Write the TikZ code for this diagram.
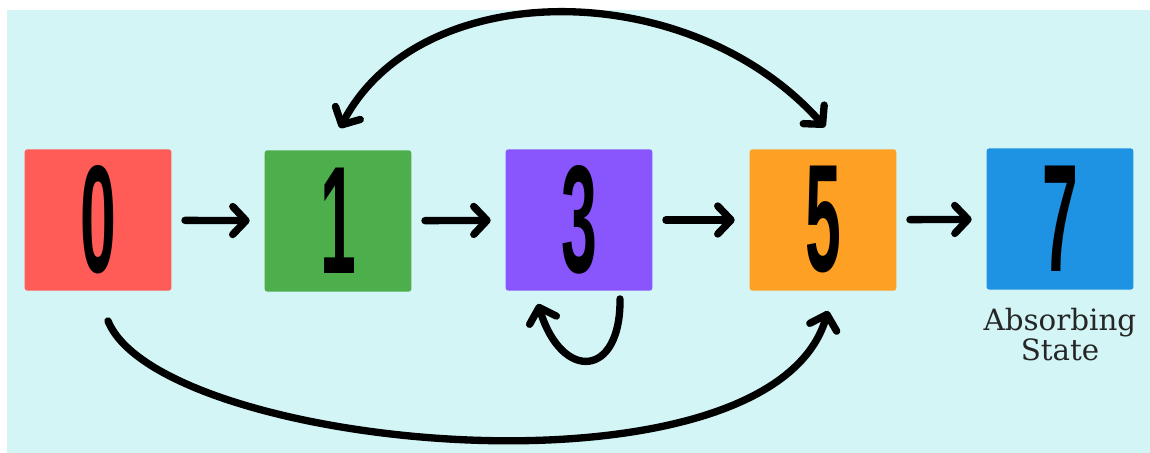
\documentclass[tikz,border=0pt]{standalone}
\usepackage{fontspec}
\usepackage{graphicx}
\usetikzlibrary{arrows.meta,calc}

\newfontfamily\digitfont{Liberation Sans}
\newfontfamily\labelfont{DejaVu Serif}
\newcommand\statedigit[1]{\scalebox{0.42}[1]{\fontsize{115}{115}\selectfont\bfseries #1}}

\definecolor{bgcyan}{HTML}{D3F5F6}
\definecolor{cZero}{HTML}{FF5B57}
\definecolor{cOne}{HTML}{4DAE4C}
\definecolor{cThree}{HTML}{8856FC}
\definecolor{cFive}{HTML}{FDA024}
\definecolor{cSeven}{HTML}{1E92E3}
\definecolor{labelgray}{HTML}{262626}

\tikzset{
  sbox/.style={minimum width=110pt, minimum height=106pt, inner sep=0pt,
               rounded corners=2pt, font=\digitfont, text=black},
  barb/.tip={Straight Barb[length=10pt, width=21pt, round]},
  arr/.style={line width=5.5pt, line cap=round, draw=black, -barb},
  straightarr/.style={arr, shorten <=10pt, shorten >=11pt},
}

\begin{document}
\begin{tikzpicture}[x=0.75pt, y=-0.75pt]
  % canvas with a thin white margin at top and left
  \useasboundingbox (0,0) rectangle (1150,453);
  \fill[white] (0,0) rectangle (1150,453);
  \fill[bgcyan] (7,10) rectangle (1150,453);

  % states
  \node[sbox, fill=cZero]  (n0) at (98,220)   {\statedigit{0}};
  \node[sbox, fill=cOne]   (n1) at (338,221)  {\statedigit{1}};
  \node[sbox, fill=cThree] (n3) at (579,220)  {\statedigit{3}};
  \node[sbox, fill=cFive]  (n5) at (823,220)  {\statedigit{5}};
  \node[sbox, fill=cSeven] (n7) at (1060,219) {\statedigit{7}};

  \node[anchor=north, inner sep=0pt, align=center, text=labelgray,
        font=\labelfont\fontsize{22}{20}\selectfont]
       (lbl) at ($(n7.south)+(0,18)$) {Absorbing\\State};

  % chain of transitions
  \draw[straightarr] (n0) -- (n1);
  \draw[straightarr] (n1) -- (n3);
  \draw[straightarr] (n3) -- (n5);
  \draw[straightarr] (n5) -- (n7);

  % two-way jump between 1 and 5
  \draw[arr, barb-barb] ($(n1.north)+(2,-22)$)
        .. controls (420,-25) and (690,-25) .. ($(n5.north)+(2,-22)$);

  % jump from 0 to 5 underneath
  \draw[arr] ($(n0.south)+(10,30)$)
        .. controls (160,450) and (770,510) .. ($(n5.south)+(5,20)$);

  % self loop on 3
  \draw[arr] ($(n3.south)+(41,8)$)
        .. controls (621,378) and (562,382) .. ($(n3.south)+(-41,13)$);
\end{tikzpicture}
\end{document}
